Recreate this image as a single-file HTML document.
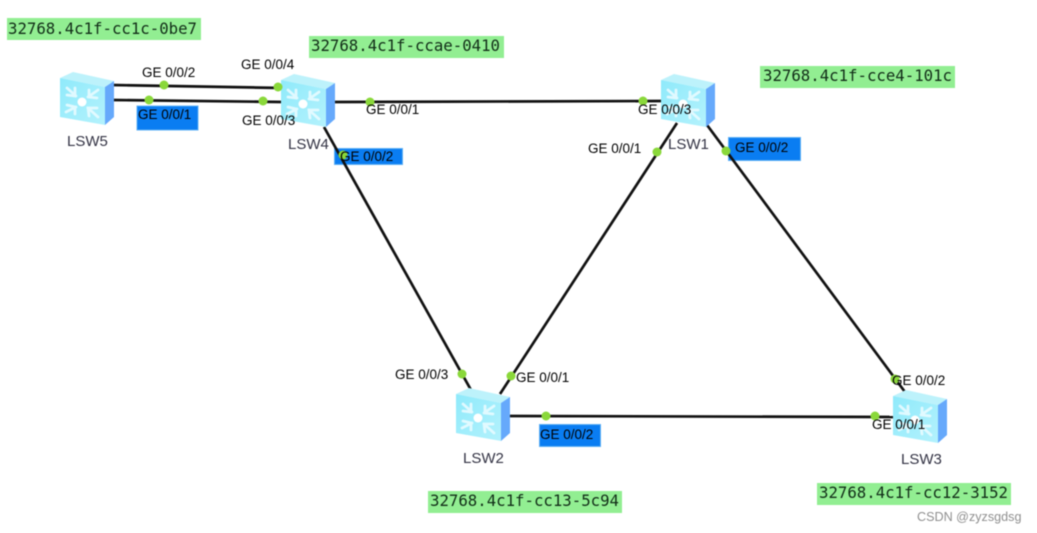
<!DOCTYPE html>
<html>
<head>
<meta charset="utf-8">
<style>
html,body{margin:0;padding:0;background:#fff;width:1037px;height:533px;overflow:hidden}
svg{display:block;filter:blur(0.45px)}
.g{font:13.5px "Liberation Sans",sans-serif;fill:#000}
.n{font:15px "Liberation Sans",sans-serif;fill:#333344}
.m{font:15.7px "DejaVu Sans Mono","Liberation Mono",monospace;fill:#122e18}
.l{stroke:#111;stroke-width:2.7;fill:none}
.b{fill:#0a7df2;stroke:#5fb0f5;stroke-width:1}
.r{fill:#92ee92}
.d{fill:#8ad83a}
.w{stroke:#e8fbff;stroke-width:2.8;fill:none;stroke-linecap:round;opacity:.9}
</style>
</head>
<body>
<svg width="1037" height="533" viewBox="0 0 1037 533" xmlns="http://www.w3.org/2000/svg">
<defs>
<linearGradient id="f" x1="0" y1="0" x2="1" y2="1">
<stop offset="0" stop-color="#8feafb"/><stop offset="1" stop-color="#b4f2fd"/>
</linearGradient>
<g id="sw">
<polygon points="0,6 13,0 54,9 45,15" fill="#bdf2fb"/>
<polygon points="0,6 45,15 45,53 0,45" fill="url(#f)"/>
<polygon points="45,15 54,9 54,45 45,53" fill="#66a9fb"/>
<circle cx="22" cy="30" r="4.500" fill="#fff"/>
<path class="w" d="M7,16 L16,24 M7,23 L15,24 L15,16"/>
<path class="w" d="M38,18 L28,25 M37,26 L29,25 L29,18"/>
<path class="w" d="M6,40 L16,35 M7,33 L15,35 L15,42"/>
<path class="w" d="M38,45 L28,36 M29,44 L28,36 L37,36"/>
</g>
</defs>

<rect class="r" x="7" y="18" width="194" height="22"/>
<rect class="r" x="309" y="36" width="195" height="22"/>
<rect class="r" x="760" y="66" width="195" height="22"/>
<rect class="r" x="428" y="491" width="194" height="22"/>
<rect class="r" x="817" y="483" width="194" height="22"/>

<rect class="b" x="137" y="106" width="61" height="24"/>
<rect class="b" x="334.500" y="148.500" width="68" height="16"/>
<rect class="b" x="728.500" y="137.500" width="72" height="23"/>
<rect class="b" x="539.500" y="424.500" width="61" height="22"/>

<line class="l" x1="112" y1="85" x2="283" y2="88"/>
<line class="l" x1="112" y1="100" x2="283" y2="102"/>
<line class="l" x1="333" y1="102" x2="663" y2="101"/>
<line class="l" x1="324" y1="127" x2="471" y2="390"/>
<line class="l" x1="677" y1="123" x2="500" y2="394"/>
<line class="l" x1="707" y1="125" x2="905" y2="392"/>
<line class="l" x1="508" y1="416" x2="895" y2="417"/>

<use href="#sw" x="60" y="72"/>
<use href="#sw" x="281" y="74"/>
<use href="#sw" x="661" y="74"/>
<use href="#sw" x="456" y="388"/>
<use href="#sw" x="893" y="390"/>

<g class="d">
<circle cx="164" cy="85" r="4.500"/>
<circle cx="278" cy="87" r="4.500"/>
<circle cx="149" cy="100" r="4.500"/>
<circle cx="263" cy="101" r="4.500"/>
<circle cx="370" cy="102" r="4.500"/>
<circle cx="643" cy="101" r="4.500"/>
<circle cx="343" cy="155" r="4.500"/>
<circle cx="657" cy="152" r="4.500"/>
<circle cx="726" cy="151" r="4.500"/>
<circle cx="462" cy="374" r="4.500"/>
<circle cx="511" cy="376" r="4.500"/>
<circle cx="546" cy="416" r="4.500"/>
<circle cx="895" cy="379" r="4.500"/>
<circle cx="875" cy="416" r="4.500"/>
</g>

<g class="g">
<text x="142" y="77">GE 0/0/2</text>
<text x="241" y="69">GE 0/0/4</text>
<text x="138" y="119">GE 0/0/1</text>
<text x="242" y="125">GE 0/0/3</text>
<text x="366" y="114">GE 0/0/1</text>
<text x="340" y="161">GE 0/0/2</text>
<text x="638" y="114">GE 0/0/3</text>
<text x="588" y="153">GE 0/0/1</text>
<text x="735" y="152">GE 0/0/2</text>
<text x="395" y="379">GE 0/0/3</text>
<text x="516" y="382">GE 0/0/1</text>
<text x="540" y="439">GE 0/0/2</text>
<text x="892" y="385">GE 0/0/2</text>
<text x="872" y="429">GE 0/0/1</text>
</g>

<g class="n">
<text x="67" y="146">LSW5</text>
<text x="288" y="149">LSW4</text>
<text x="668" y="149">LSW1</text>
<text x="463" y="463">LSW2</text>
<text x="901" y="464">LSW3</text>
</g>

<g class="m">
<text x="8" y="34" textLength="189">32768.4c1f-cc1c-0be7</text>
<text x="311" y="51" textLength="189">32768.4c1f-ccae-0410</text>
<text x="763" y="81" textLength="189">32768.4c1f-cce4-101c</text>
<text x="430" y="506" textLength="189">32768.4c1f-cc13-5c94</text>
<text x="819" y="498" textLength="189">32768.4c1f-cc12-3152</text>
</g>

<text x="917" y="521" style="font:12.6px 'Liberation Sans',sans-serif;fill:#8f8f8f">CSDN @zyzsgdsg</text>
</svg>
</body>
</html>
